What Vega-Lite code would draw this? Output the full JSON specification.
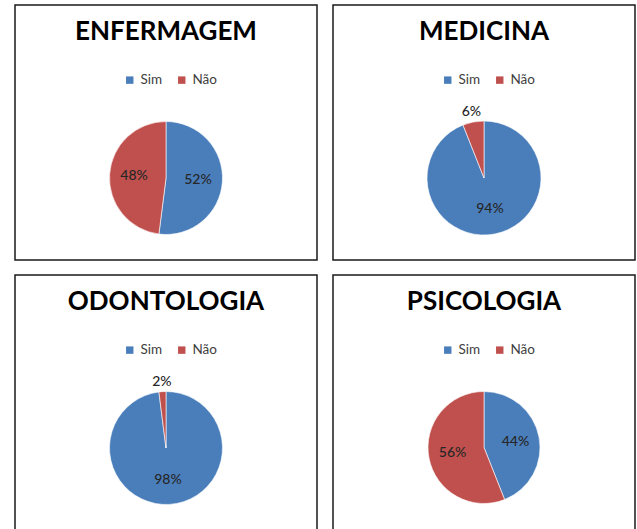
{
  "$schema": "https://vega.github.io/schema/vega-lite/v6.json",
  "padding": {"left": 14, "top": 4, "right": 2, "bottom": 0},
  "background": "white",
  "datasets": {
    "d": [
      {"curso": "ENFERMAGEM", "resposta": "Sim", "pct": 0.52},
      {"curso": "ENFERMAGEM", "resposta": "Não", "pct": 0.48},
      {"curso": "MEDICINA", "resposta": "Sim", "pct": 0.94},
      {"curso": "MEDICINA", "resposta": "Não", "pct": 0.06},
      {"curso": "ODONTOLOGIA", "resposta": "Sim", "pct": 0.98},
      {"curso": "ODONTOLOGIA", "resposta": "Não", "pct": 0.02},
      {"curso": "PSICOLOGIA", "resposta": "Sim", "pct": 0.44},
      {"curso": "PSICOLOGIA", "resposta": "Não", "pct": 0.56}
    ]
  },
  "config": {
    "view": {"stroke": "#1a1a1a", "strokeWidth": 1.5},
    "title": {"font": "Lato", "fontWeight": "bold", "fontSize": 26, "color": "#000", "anchor": "middle", "offset": -40, "baseline": "alphabetic"},
    "legend": {
      "orient": "none", "legendX": 108, "legendY": 68, "direction": "horizontal",
      "symbolType": "square", "symbolSize": 55, "symbolStrokeWidth": 0,
      "labelFont": "Lato", "labelFontSize": 13.5, "labelColor": "#404040",
      "columnPadding": 12, "title": null
    }
  },
  "spacing": 13,
  "resolve": {"legend": {"color": "independent"}},
  "vconcat": [
    {
      "spacing": 14,
      "resolve": {"legend": {"color": "independent"}},
      "hconcat": [
        {
          "width": 302, "height": 255,
          "view": {"stroke": "#1a1a1a", "strokeWidth": 1.5},
          "title": {"text": "ENFERMAGEM"},
          "data": {"name": "d"},
          "transform": [{"filter": "datum.curso == 'ENFERMAGEM'"}],
          "encoding": {
            "theta": {"field": "pct", "type": "quantitative", "stack": true},
            "order": {"field": "resposta", "sort": "descending"},
            "detail": {"field": "resposta"}
          },
          "layer": [
            {"mark": {"type": "arc", "outerRadius": 56.5, "yOffset": 45.5, "stroke": "#ffffff", "strokeWidth": 0.6},
             "encoding": {"color": {"field": "resposta", "type": "nominal", "scale": {"domain": ["Sim", "Não"], "range": ["#4A7EBB", "#C0504D"]}}}},
            {"mark": {"type": "text", "radius": 32, "yOffset": 45.5, "font": "Lato", "fontSize": 14, "fontWeight": 500, "color": "#262626"},
             "encoding": {"text": {"field": "pct", "type": "quantitative", "format": ".0%"},
                          "opacity": {"condition": {"test": "datum.pct < 0.1", "value": 0}, "value": 1}}},
            {"mark": {"type": "text", "radius": 67, "yOffset": 45.5, "font": "Lato", "fontSize": 14, "fontWeight": 500, "color": "#262626"},
             "encoding": {"text": {"field": "pct", "type": "quantitative", "format": ".0%"},
                          "opacity": {"condition": {"test": "datum.pct < 0.1", "value": 1}, "value": 0}}}
          ]
        },
        {
          "width": 302, "height": 255,
          "view": {"stroke": "#1a1a1a", "strokeWidth": 1.5},
          "title": {"text": "MEDICINA"},
          "data": {"name": "d"},
          "transform": [{"filter": "datum.curso == 'MEDICINA'"}],
          "encoding": {
            "theta": {"field": "pct", "type": "quantitative", "stack": true},
            "order": {"field": "resposta", "sort": "descending"},
            "detail": {"field": "resposta"}
          },
          "layer": [
            {"mark": {"type": "arc", "outerRadius": 57, "yOffset": 45.5, "stroke": "#ffffff", "strokeWidth": 0.6},
             "encoding": {"color": {"field": "resposta", "type": "nominal", "scale": {"domain": ["Sim", "Não"], "range": ["#4A7EBB", "#C0504D"]}}}},
            {"mark": {"type": "text", "radius": 32, "yOffset": 45.5, "font": "Lato", "fontSize": 14, "fontWeight": 500, "color": "#262626"},
             "encoding": {"text": {"field": "pct", "type": "quantitative", "format": ".0%"},
                          "opacity": {"condition": {"test": "datum.pct < 0.1", "value": 0}, "value": 1}}},
            {"mark": {"type": "text", "radius": 67, "yOffset": 45.5, "font": "Lato", "fontSize": 14, "fontWeight": 500, "color": "#262626"},
             "encoding": {"text": {"field": "pct", "type": "quantitative", "format": ".0%"},
                          "opacity": {"condition": {"test": "datum.pct < 0.1", "value": 1}, "value": 0}}}
          ]
        }
      ]
    },
    {
      "spacing": 14,
      "resolve": {"legend": {"color": "independent"}},
      "hconcat": [
        {
          "width": 302, "height": 255,
          "view": {"stroke": "#1a1a1a", "strokeWidth": 1.5},
          "title": {"text": "ODONTOLOGIA"},
          "data": {"name": "d"},
          "transform": [{"filter": "datum.curso == 'ODONTOLOGIA'"}],
          "encoding": {
            "theta": {"field": "pct", "type": "quantitative", "stack": true},
            "order": {"field": "resposta", "sort": "descending"},
            "detail": {"field": "resposta"}
          },
          "layer": [
            {"mark": {"type": "arc", "outerRadius": 56.5, "yOffset": 45.5, "stroke": "#ffffff", "strokeWidth": 0.6},
             "encoding": {"color": {"field": "resposta", "type": "nominal", "scale": {"domain": ["Sim", "Não"], "range": ["#4A7EBB", "#C0504D"]}}}},
            {"mark": {"type": "text", "radius": 32, "yOffset": 45.5, "font": "Lato", "fontSize": 14, "fontWeight": 500, "color": "#262626"},
             "encoding": {"text": {"field": "pct", "type": "quantitative", "format": ".0%"},
                          "opacity": {"condition": {"test": "datum.pct < 0.1", "value": 0}, "value": 1}}},
            {"mark": {"type": "text", "radius": 66, "yOffset": 45.5, "font": "Lato", "fontSize": 14, "fontWeight": 500, "color": "#262626"},
             "encoding": {"text": {"field": "pct", "type": "quantitative", "format": ".0%"},
                          "opacity": {"condition": {"test": "datum.pct < 0.1", "value": 1}, "value": 0}}}
          ]
        },
        {
          "width": 302, "height": 255,
          "view": {"stroke": "#1a1a1a", "strokeWidth": 1.5},
          "title": {"text": "PSICOLOGIA"},
          "data": {"name": "d"},
          "transform": [{"filter": "datum.curso == 'PSICOLOGIA'"}],
          "encoding": {
            "theta": {"field": "pct", "type": "quantitative", "stack": true},
            "order": {"field": "resposta", "sort": "descending"},
            "detail": {"field": "resposta"}
          },
          "layer": [
            {"mark": {"type": "arc", "outerRadius": 56, "yOffset": 45, "stroke": "#ffffff", "strokeWidth": 0.6},
             "encoding": {"color": {"field": "resposta", "type": "nominal", "scale": {"domain": ["Sim", "Não"], "range": ["#4A7EBB", "#C0504D"]}}}},
            {"mark": {"type": "text", "radius": 32, "yOffset": 45, "font": "Lato", "fontSize": 14, "fontWeight": 500, "color": "#262626"},
             "encoding": {"text": {"field": "pct", "type": "quantitative", "format": ".0%"},
                          "opacity": {"condition": {"test": "datum.pct < 0.1", "value": 0}, "value": 1}}},
            {"mark": {"type": "text", "radius": 67, "yOffset": 45, "font": "Lato", "fontSize": 14, "fontWeight": 500, "color": "#262626"},
             "encoding": {"text": {"field": "pct", "type": "quantitative", "format": ".0%"},
                          "opacity": {"condition": {"test": "datum.pct < 0.1", "value": 1}, "value": 0}}}
          ]
        }
      ]
    }
  ]
}
